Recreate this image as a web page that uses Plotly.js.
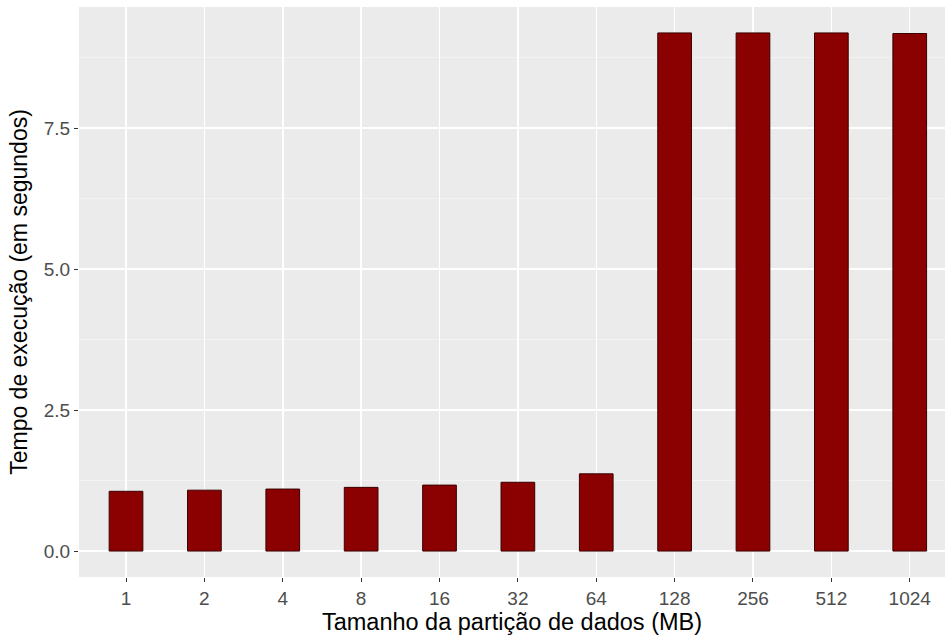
<!DOCTYPE html>
<html><head><meta charset="utf-8">
<script src="https://cdn.plot.ly/plotly-3.0.1.min.js"></script>
<style>body{margin:0;background:#fff}</style>
</head><body>
<div id="chart" style="width:945px;height:637px"></div>
<script>
const categories = ["1","2","4","8","16","32","64","128","256","512","1024"];
const tempos = [1.06, 1.08, 1.10, 1.13, 1.17, 1.22, 1.37, 9.19, 9.19, 9.19, 9.18];
const yTicks = [0, 2.5, 5, 7.5];
const yTickLabels = ["0.0", "2.5", "5.0", "7.5"];

const trace = {
  type: "bar",
  x: categories,
  y: tempos,
  width: 0.43,
  marker: {color: "#8B0000", line: {color: "#3a0000", width: 1}},
  hoverinfo: "x+y"
};

const layout = {
  width: 945, height: 637,
  margin: {l: 79, r: 0, t: 7, b: 60},
  paper_bgcolor: "#ffffff",
  plot_bgcolor: "#EBEBEB",
  font: {family: "Liberation Sans, Arial, sans-serif", color: "#4D4D4D"},
  showlegend: false,
  xaxis: {
    type: "category",
    range: [-0.6, 10.45],
    showgrid: true, gridcolor: "#ffffff", gridwidth: 1.5,
    zeroline: false,
    ticks: "outside", ticklen: 4, tickcolor: "#333333", tickwidth: 1,
    tickfont: {size: 19, color: "#4D4D4D"},
    title: {text: "Tamanho da partição de dados (MB)", font: {size: 23.5, color: "#000000"}, standoff: 0}
  },
  yaxis: {
    range: [-0.46, 9.65],
    tickvals: yTicks, ticktext: yTickLabels,
    showgrid: true, gridcolor: "#ffffff", gridwidth: 1.5,
    minor: {dtick: 1.25, tick0: 1.25, showgrid: true, gridcolor: "#F7F7F7", gridwidth: 0.7, ticks: ""},
    zeroline: false,
    ticks: "outside", ticklen: 4, tickcolor: "#333333", tickwidth: 1,
    tickfont: {size: 19, color: "#4D4D4D"},
    title: {text: "Tempo de execução (em segundos)", font: {size: 23, color: "#000000"}, standoff: 9}
  }
};

Plotly.newPlot("chart", [trace], layout, {displayModeBar: false, staticPlot: true});
</script>
</body></html>
